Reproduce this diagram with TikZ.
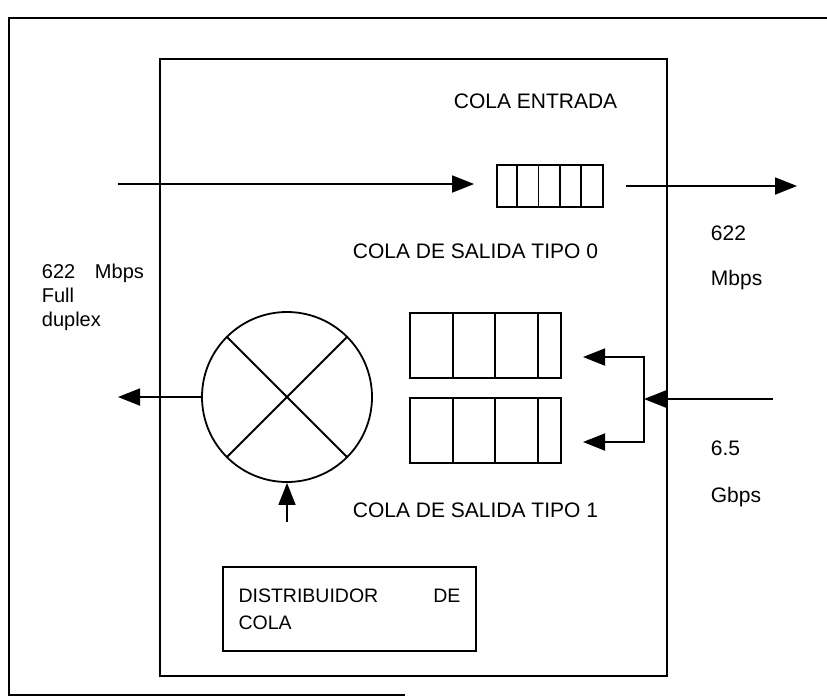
\documentclass[tikz,border=0pt]{standalone}
\usepackage{fontspec}
\setmainfont{Liberation Sans}
\usetikzlibrary{arrows.meta}
\begin{document}
\begin{tikzpicture}[x=1pt,y=-1pt,line width=1.8pt,
  arr/.style={-{Triangle[length=22pt,width=17pt]}},
  lbl/.style={font=\fontsize{21}{25}\selectfont,inner sep=0pt,anchor=base west},
  box/.style={draw,rectangle,inner sep=0pt}]
\useasboundingbox (0,0) rectangle (827,697);
% outer frame
\coordinate (fTR) at (827,18);
\coordinate (fTL) at (9,18);
\coordinate (fBL) at (9,695);
\coordinate (fBR) at (405,695);
\draw (fTR) -- (fTL) -- (fBL) -- (fBR);
% inner box
\node[box,minimum width=507pt,minimum height=617pt] (router) at (413.5,367.5) {};
% input queue
\node[box,minimum width=106pt,minimum height=42pt] (qin) at (550,186) {};
\foreach \i in {1,...,4}
  \draw ([xshift=\i*21.2pt]qin.north west) -- ([xshift=\i*21.2pt]qin.south west);
% output queues
\node[box,minimum width=151pt,minimum height=65pt] (qa) at (485.5,345.5) {};
\node[box,minimum width=151pt,minimum height=65pt] (qb) at (485.5,430.5) {};
\foreach \q in {qa,qb}
  \foreach \d in {44,86,129}
    \draw ([xshift=\d pt]\q.north west) -- ([xshift=\d pt]\q.south west);
% switch
\node[draw,circle,minimum size=170pt,inner sep=0pt] (sw) at (287,397) {};
\draw (sw.45) -- (sw.225);
\draw (sw.135) -- (sw.315);
% distributor
\node[box,minimum width=253pt,minimum height=84pt,text width=222pt,align=left,
  font=\fontsize{19.5}{27}\selectfont] (dist) at (349.5,609) {DISTRIBUIDOR\hfill DE\\COLA\\[-6pt]};
% labels
\node[lbl] (lEnt) at (453,108) {COLA ENTRADA};
\node[lbl] (lT0) at (352,258) {COLA DE SALIDA TIPO 0};
\node[lbl] (lT1) at (352,517) {COLA DE SALIDA TIPO 1};
\node[lbl] (l622) at (710,240) {622};
\node[lbl] (lMb) at (710,285) {Mbps};
\node[lbl] (l65) at (710,455) {6.5};
\node[lbl] (lGb) at (710,502) {Gbps};
\node[inner sep=0pt,anchor=base west,text width=102pt,align=left,
  font=\fontsize{20}{24}\selectfont] (lLeft) at (41,278) {622\hfill Mbps\\Full\\duplex};
% connectors
\coordinate (inA) at (118,184);
\coordinate (outA) at (797,186);
\draw[arr,shorten >=22pt] (inA) -- (qin.west |- inA);
\draw[arr,shorten <=22pt] (qin.east) -- (outA);
\coordinate (inB) at (773,399);
\coordinate (split) at (644,399);
\coordinate (ta) at (583,357);
\coordinate (tb) at (583,442);
\draw[arr] (inB) -- (split);
\draw[arr] (split) |- (ta);
\draw[arr] (split) |- (tb);
\coordinate (outL) at (118,397);
\draw[arr] (sw.west) -- (outL);
\coordinate (ctl) at (287,522);
\draw[arr] (ctl) -- (sw.south);
\end{tikzpicture}
\end{document}
